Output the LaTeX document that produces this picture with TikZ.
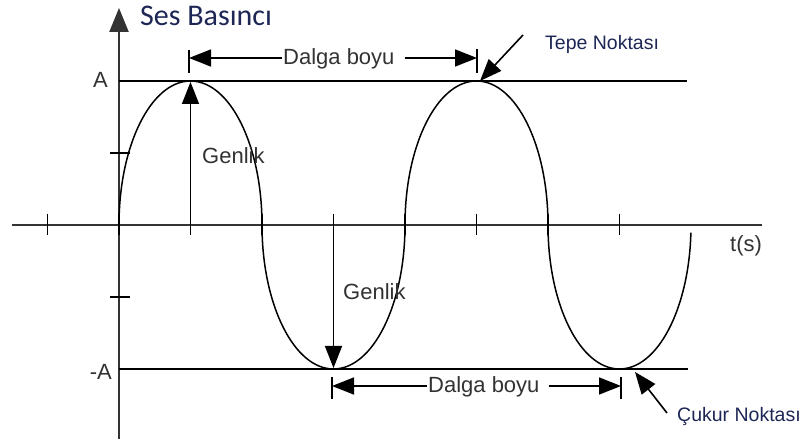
\documentclass[tikz,border=0pt]{standalone}
\usepackage{fontspec}
\setmainfont{Liberation Sans}
\newfontfamily\calib{Carlito}
\usetikzlibrary{arrows.meta}
\definecolor{navy}{RGB}{30,38,85}
\definecolor{txt}{RGB}{50,50,50}
\begin{document}
\begin{tikzpicture}[x=1pt,y=-1pt,
  lbl/.style={font=\fontsize{22}{26}\selectfont, text=txt, inner sep=0pt},
  note/.style={font=\fontsize{19.5}{23}\selectfont, text=navy, inner sep=0pt},
  tri/.style={-{Triangle[length=22pt,width=17pt]}, line width=1.6pt},
  axisline/.style={line width=2.3pt, black!80},
  ampline/.style={line width=1.8pt, black},
  wave/.style={line width=1.5pt, black},
  tickline/.style={line width=1.6pt, black},
  barline/.style={line width=1.5pt, black}]
\useasboundingbox (0,0) rectangle (804,446);

% axes
\draw[axisline] (12,225) -- (762,225);
\draw[axisline, -{Triangle[length=24pt,width=19pt]}] (119,439) -- (119,8);

% ticks
\foreach \k in {-1,...,7}{
  \draw[tickline] ({119+71.5*\k},214) -- ({119+71.5*\k},235);
}
\draw[tickline] (110,153) -- (130,153);
\draw[tickline] (110,297) -- (130,297);

% amplitude lines
\draw[ampline] (119,81) -- (687,81);
\draw[ampline] (119,369) -- (688,369);

% wave
\draw[wave] (119,225)
  arc[start angle=180,end angle=360,x radius=71.5,y radius=144]
  arc[start angle=180,end angle=0,x radius=71.5,y radius=144]
  arc[start angle=180,end angle=360,x radius=71.5,y radius=144]
  arc[start angle=180,end angle=3,x radius=71.5,y radius=144];

% labels
\node[font=\calib\fontsize{30}{34}\selectfont, text=navy, inner sep=0pt, anchor=base west] (ses) at (140,26) {Ses Basıncı};
\node[lbl, anchor=base east] (A) at (108,88) {A};
\node[lbl, anchor=base east] (mA) at (112,380) {-A};
\node[lbl, anchor=base west] (ts) at (730,252) {t(s)};
\node[lbl, anchor=base west] (g1) at (202,164) {Genlik};
\node[lbl, anchor=base west] (g2) at (343,300) {Genlik};
\node[lbl, anchor=base west] (dtop) at (283,65) {Dalga boyu};
\node[lbl, anchor=base west] (dbot) at (428,393) {Dalga boyu};
\node[note, anchor=base west] (tepe) at (545,50) {Tepe Noktası};
\node[note, anchor=base west] (cukur) at (677,422) {Çukur Noktası};

% amplitude arrows
\coordinate (o1) at (190.5,225);
\coordinate (p1) at (190.5,82);
\coordinate (o2) at (333.5,225);
\coordinate (p2) at (333.5,368);
\draw[tri] (o1) -- (p1);
\draw[tri] (o2) -- (p2);

% wavelength markers
\coordinate (b1) at (189,58);
\coordinate (b2) at (477,58);
\coordinate (b3) at (332,386);
\coordinate (b4) at (621,386);
\draw[barline] (189,50) -- (189,73);
\draw[barline] (477,49) -- (477,73);
\draw[barline] (332,377) -- (332,399);
\draw[barline] (621,377) -- (621,399);
\draw[tri] ([xshift=-1pt]dtop.west |- b1) -- (b1);
\draw[tri] ([xshift=10pt]dtop.east |- b2) -- (b2);
\draw[tri] ([xshift=-1pt]dbot.west |- b3) -- (b3);
\draw[tri] ([xshift=9pt]dbot.east |- b4) -- (b4);

% peak / trough pointers
\coordinate (ts1) at (523,35);
\coordinate (tp1) at (480,81);
\coordinate (cs1) at (667,413);
\coordinate (cp1) at (635,372);
\draw[tri] (ts1) -- (tp1);
\draw[tri] (cs1) -- (cp1);
\end{tikzpicture}
\end{document}
